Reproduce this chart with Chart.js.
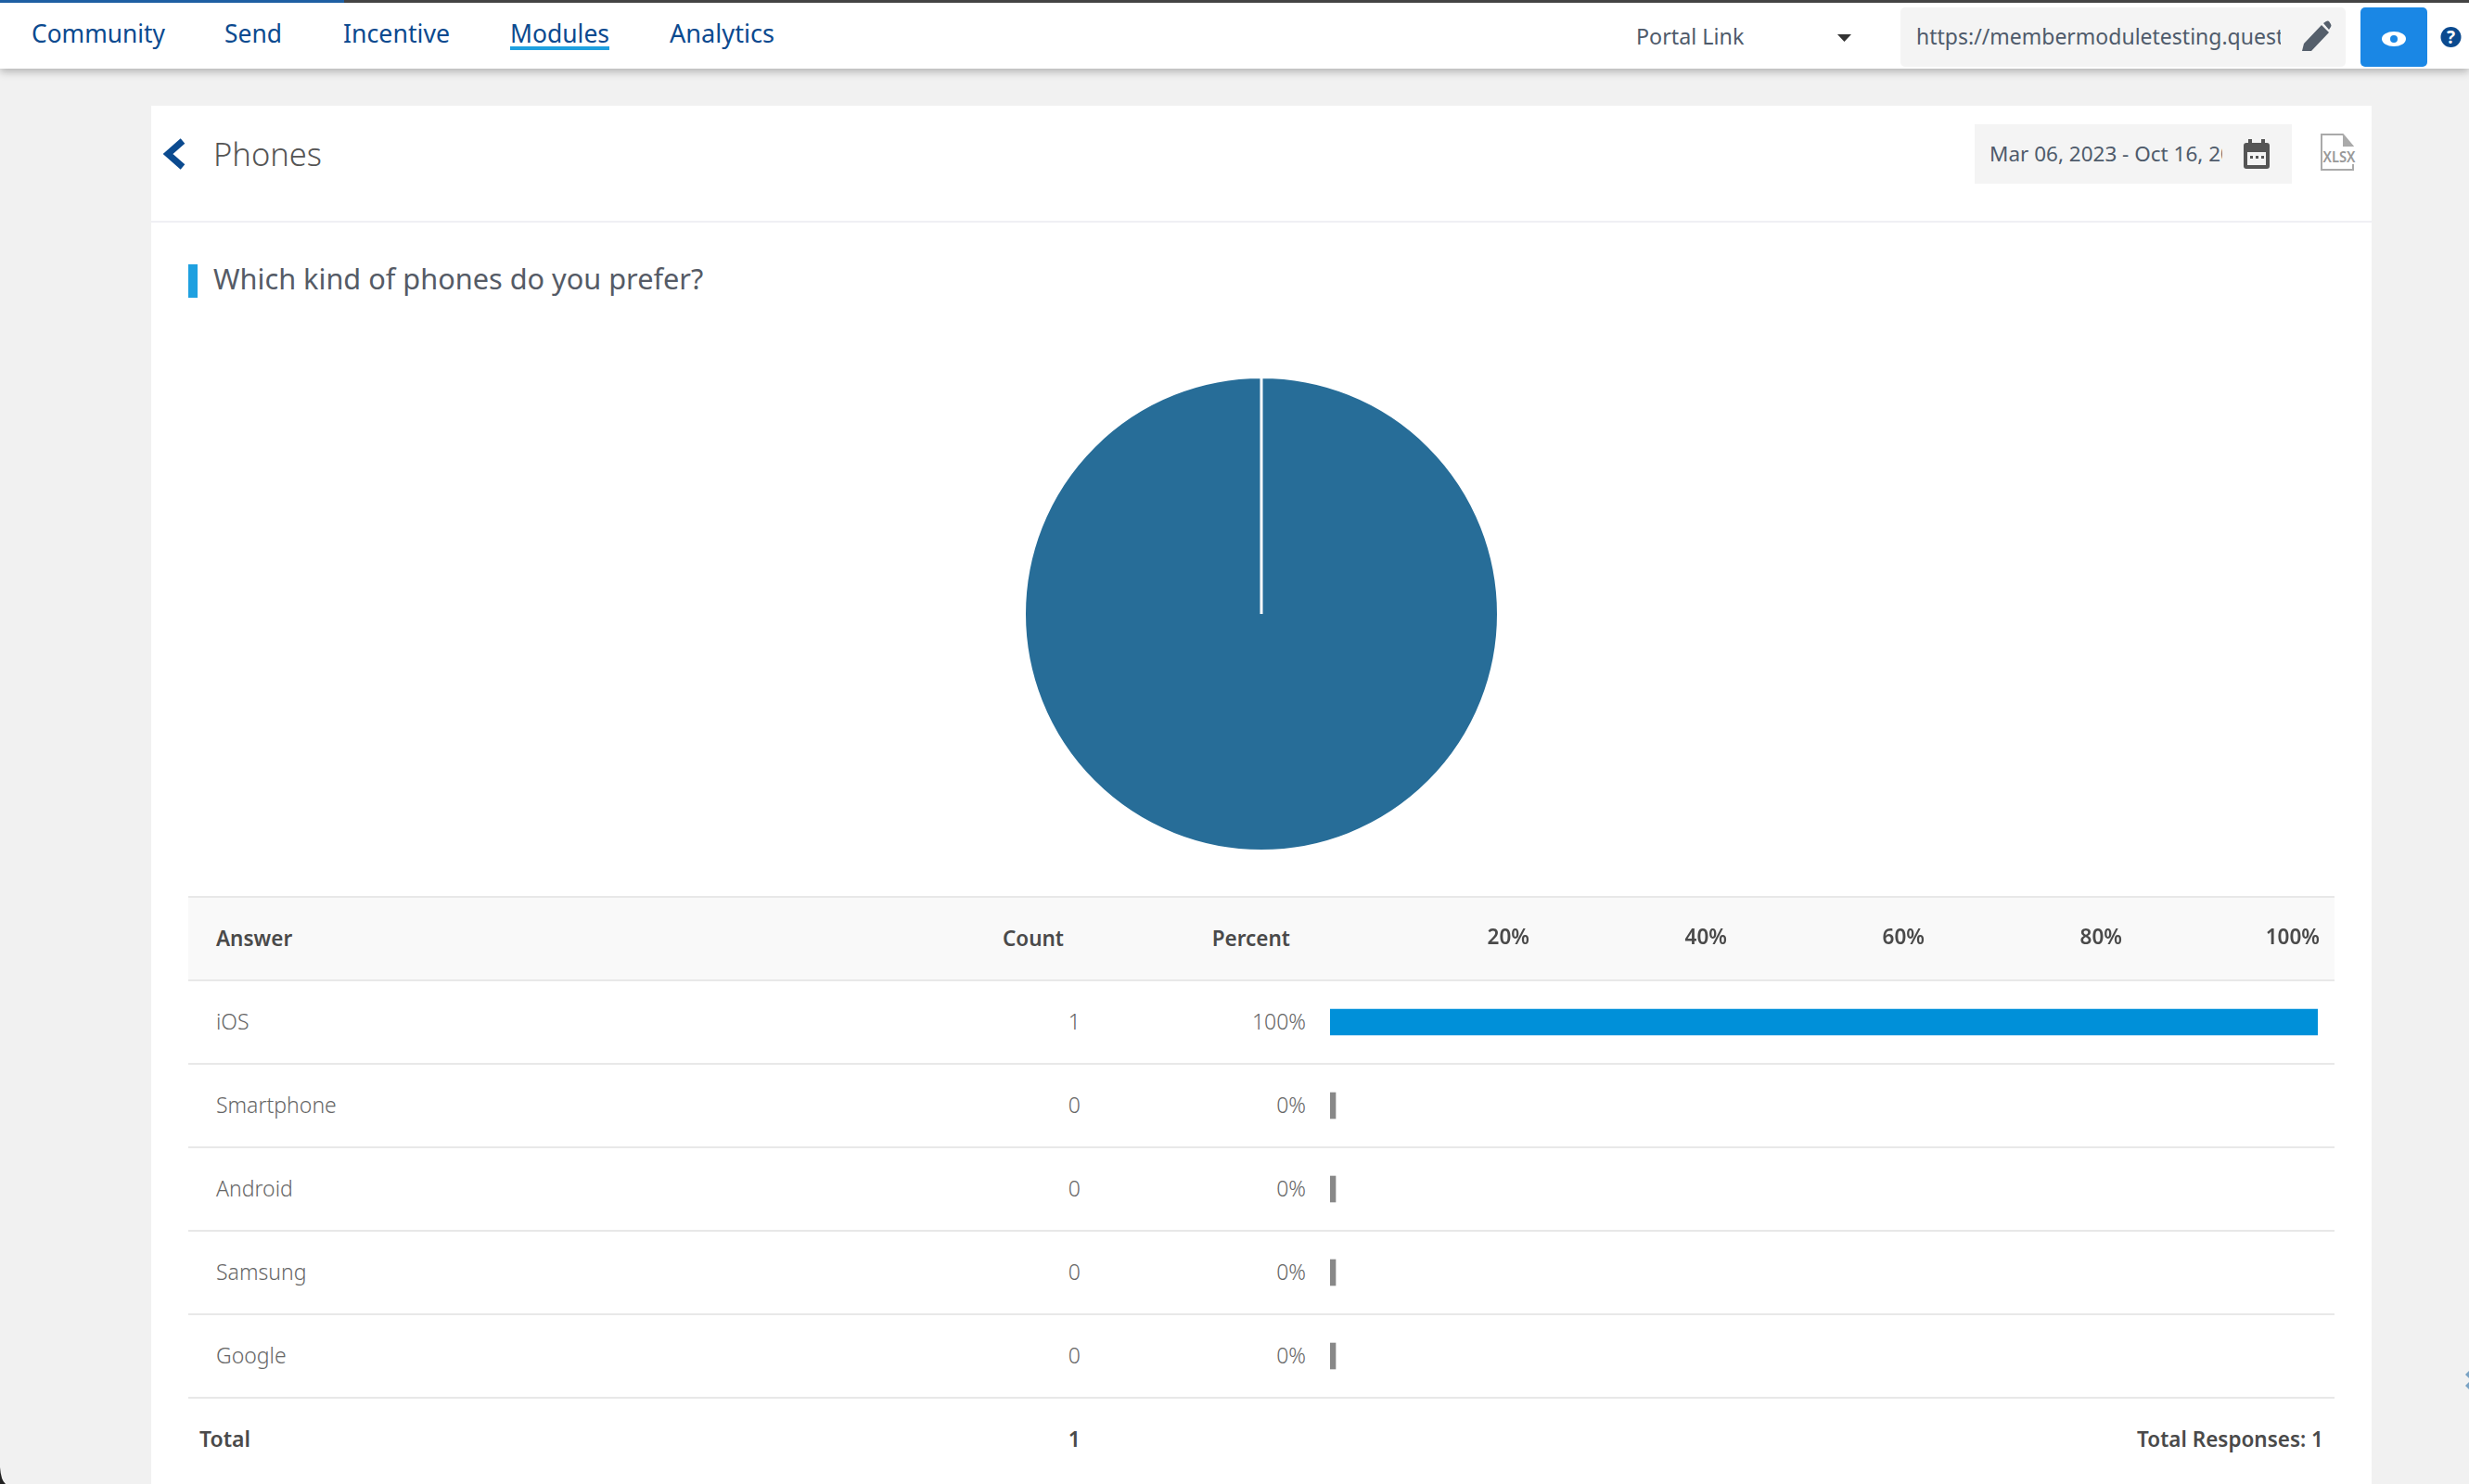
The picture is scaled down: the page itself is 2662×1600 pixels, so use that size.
<!DOCTYPE html>
<html>
<head>
<meta charset="utf-8">
<title>Phones</title>
<script src="https://cdn.jsdelivr.net/npm/chart.js@4"></script>
<style>
    html, body { margin: 0; width: 2662px; height: 1600px; overflow: hidden; background: #f1f1f1; font-family: "Noto Sans", sans-serif; }
    #card { position: absolute; left: 163px; top: 114px; width: 2394px; height: 1486px; background: #fff; }
    #topbar { position: absolute; left: 0; top: 0; width: 2662px; height: 74px; background: #fff; box-shadow: 0 3px 9px rgba(0, 0, 0, .28); }
    #page { position: absolute; left: 0; top: 0; }
    canvas { position: absolute; }
    #pieChart { left: 1103px; top: 405px; }
    #barChart { left: 1434px; top: 967px; }
</style>
</head>
<body>
<div id="card"></div>
<div id="topbar"></div>
<svg id="page" width="2662" height="1600" xmlns="http://www.w3.org/2000/svg"></svg>
<canvas id="pieChart" width="514" height="514"></canvas>
<canvas id="barChart" width="1097" height="540"></canvas>

<script>
// Chart data
const answers = ['iOS', 'Smartphone', 'Android', 'Samsung', 'Google'];
const counts = [1, 0, 0, 0, 0];
const percents = [100, 0, 0, 0, 0];
const percentTicks = [20, 40, 60, 80, 100];

const navItems = ['Community', 'Send', 'Incentive', 'Modules', 'Analytics'];
const navPositions = [34, 242, 370, 550, 722];
const navWidths = [144, 62, 115, 107, 113];

const DARK_BLUE = '#0b4a8f';
const TEXT_GREY = '#555b66';

const svg = document.getElementById('page');

function addShape(tag, attrs, parent = svg) {
    const el = document.createElementNS('http://www.w3.org/2000/svg', tag);
    Object.entries(attrs).forEach(([key, value]) => el.setAttribute(key, value));
    parent.appendChild(el);
    return el;
}

function addText(text, x, y, size, fill, extra = {}, parent = svg) {
    const el = addShape('text', { x, y, fill, 'font-size': size, 'font-family': '"Noto Sans", sans-serif', ...extra }, parent);
    el.textContent = text;
    return el;
}

// Top bar
function drawTopBar() {
    addShape('rect', { x: 0, y: 0, width: 2662, height: 3, fill: '#444' });
    addShape('rect', { x: 0, y: 0, width: 371, height: 3, fill: '#1e5fa3' });

    navItems.forEach((item, i) => {
        addText(item, navPositions[i], 46, 26.5, DARK_BLUE, { textLength: navWidths[i], lengthAdjust: 'spacingAndGlyphs' });
    });
    addShape('rect', { x: 550, y: 50, width: 107, height: 4, fill: '#1ea0e0' });

    addText('Portal Link', 1764, 48, 23.3, '#4f5b6b');
    addShape('path', { d: 'M1981 37h15l-7.5 8z', fill: '#333' });

    // link box, the url is cut off by the box
    addShape('rect', { x: 2049, y: 8, width: 480, height: 64, rx: 5, fill: '#f4f4f4' });
    const urlClip = addShape('svg', { x: 2066, y: 8, width: 393, height: 64 });
    addText('https://membermoduletesting.questionpro.com', 0, 40, 23, '#4f5b6b', {}, urlClip);
    addShape('path', { d: 'M2482 55l2-8 19-20 8 8-19 20zM2505 25l3-2q2-1 3 0l2 3q1 2 0 3l-2 3z', fill: '#555f6b' });

    // preview button
    addShape('rect', { x: 2545, y: 8, width: 72, height: 64, rx: 5, fill: '#1a87e5' });
    addShape('ellipse', { cx: 2581, cy: 42, rx: 13, ry: 8, fill: '#fff' });
    addShape('circle', { cx: 2581, cy: 42, r: 4, fill: '#1a87e5' });

    addShape('circle', { cx: 2642.5, cy: 40, r: 11, fill: DARK_BLUE });
    addText('?', 2642.5, 47, 19, '#fff', { 'text-anchor': 'middle', 'font-weight': 700 });
}

// Card header with title, date range and export icon
function drawCardHeader() {
    addShape('path', { d: 'M197 152L181 166L197 180', fill: 'none', stroke: DARK_BLUE, 'stroke-width': 7 });
    addText('Phones', 230, 179, 34.5, '#555', { 'font-weight': 300 });
    addShape('rect', { x: 163, y: 238, width: 2394, height: 2, fill: '#f0f0f4' });

    addShape('rect', { x: 2129, y: 134, width: 342, height: 64, fill: '#f4f4f4' });
    const dateClip = addShape('svg', { x: 2145, y: 134, width: 251, height: 64 });
    addText('Mar 06, 2023 - Oct 16, 2023', 0, 40, 22.5, '#4f5b6b', {}, dateClip);

    // calendar icon
    addShape('rect', { x: 2419, y: 154, width: 28, height: 28, rx: 3, fill: '#555' });
    addShape('rect', { x: 2423, y: 164, width: 20, height: 14, fill: '#f4f4f4' });
    addShape('rect', { x: 2424, y: 150, width: 4, height: 7, fill: '#555' });
    addShape('rect', { x: 2438, y: 150, width: 4, height: 7, fill: '#555' });
    [2426, 2432, 2438].forEach(x => addShape('rect', { x, y: 168, width: 3, height: 3, fill: '#555' }));

    // xlsx icon
    addShape('path', { d: 'M2503 145h23l11 13v25h-34z', fill: '#fff', stroke: '#aaa', 'stroke-width': 2 });
    addShape('path', { d: 'M2526 145v13h11z', fill: '#aaa' });
    addShape('rect', { x: 2505, y: 158, width: 36, height: 19, fill: '#fff' });
    addText('XLSX', 2522, 175, 16, '#999', { 'text-anchor': 'middle', 'font-weight': 600, textLength: 35, lengthAdjust: 'spacingAndGlyphs' });

    addShape('rect', { x: 203, y: 285, width: 10, height: 36, fill: '#1ea0e0' });
    addText('Which kind of phones do you prefer?', 230, 312, 30.7, TEXT_GREY);
}

// Table text and row lines, the bars come from the chart on top of it
function drawTable() {
    addShape('rect', { x: 203, y: 967, width: 2314, height: 90, fill: '#f9f9f9' });
    [967, 1057, 1147, 1237, 1327, 1417, 1507].forEach(y => {
        addShape('rect', { x: 203, y: y - 1, width: 2314, height: 2, fill: '#e8e8e8' });
    });

    const bold = { 'font-weight': 600 };
    const boldEnd = { 'font-weight': 600, 'text-anchor': 'end' };
    addText('Answer', 233, 1020, 22.5, '#4a4a4a', bold);
    addText('Count', 1147, 1020, 22.5, '#4a4a4a', boldEnd);
    addText('Percent', 1391, 1020, 22.5, '#4a4a4a', boldEnd);

    answers.forEach((answer, i) => {
        const y = 1110 + i * 90;
        addText(answer, 233, y, 23, '#666', { 'font-weight': 300 });
        addText(counts[i], 1165, y, 23, '#666', { 'font-weight': 300, 'text-anchor': 'end' });
        addText(`${percents[i]}%`, 1408, y, 23, '#666', { 'font-weight': 300, 'text-anchor': 'end' });
    });

    const total = counts.reduce((sum, count) => sum + count, 0);
    addText('Total', 215, 1560, 23, '#4a4a4a', bold);
    addText(total, 1165, 1560, 23, '#4a4a4a', boldEnd);
    addText(`Total Responses: ${total}`, 2505, 1560, 22.5, '#4a4a4a', boldEnd);
}

// Window corner and the cut off handle on the right edge
function drawEdges() {
    addShape('path', { d: 'M0 1582Q1 1596 6 1600H0z', fill: '#222' });
    addShape('path', { d: 'M2662 1478l-4 4 4 4zM2662 1490l-4 4 4 4z', fill: '#7aa3c4' });
}

function initCharts() {
    new Chart(document.getElementById('pieChart'), {
        type: 'pie',
        data: {
            labels: answers,
            datasets: [{
                data: counts,
                backgroundColor: '#276d98',
                borderColor: '#fff',
                borderWidth: 3
            }]
        },
        options: {
            responsive: false,
            animation: false,
            layout: { padding: 0 },
            plugins: { legend: { display: false }, tooltip: { enabled: false } }
        }
    });

    // the tick padding also reserves room on the right, so the canvas runs past the bar end
    new Chart(document.getElementById('barChart'), {
        type: 'bar',
        data: {
            labels: answers,
            datasets: [{
                data: percents,
                backgroundColor: percents.map(p => p > 0 ? '#0090d9' : '#888'),
                barThickness: 28,
                minBarLength: 6
            }]
        },
        options: {
            indexAxis: 'y',
            responsive: false,
            animation: false,
            layout: { padding: 0 },
            plugins: { legend: { display: false }, tooltip: { enabled: false } },
            scales: {
                x: {
                    position: 'top',
                    min: 0,
                    max: 100,
                    border: { display: false },
                    grid: { display: false, drawTicks: false },
                    afterBuildTicks: scale => { scale.ticks = percentTicks.map(value => ({ value })); },
                    afterFit: scale => { scale.height = 90; },
                    ticks: {
                        align: 'end',
                        autoSkip: false,
                        maxRotation: 0,
                        padding: 32,
                        labelOffset: 2,
                        color: '#4a4a4a',
                        font: { family: '"Noto Sans", sans-serif', size: 22.5, weight: 600 },
                        callback: value => `${value}%`
                    }
                },
                y: { display: false }
            }
        }
    });
}

drawTopBar();
drawCardHeader();
drawTable();
drawEdges();
initCharts();
</script>
</body>
</html>
